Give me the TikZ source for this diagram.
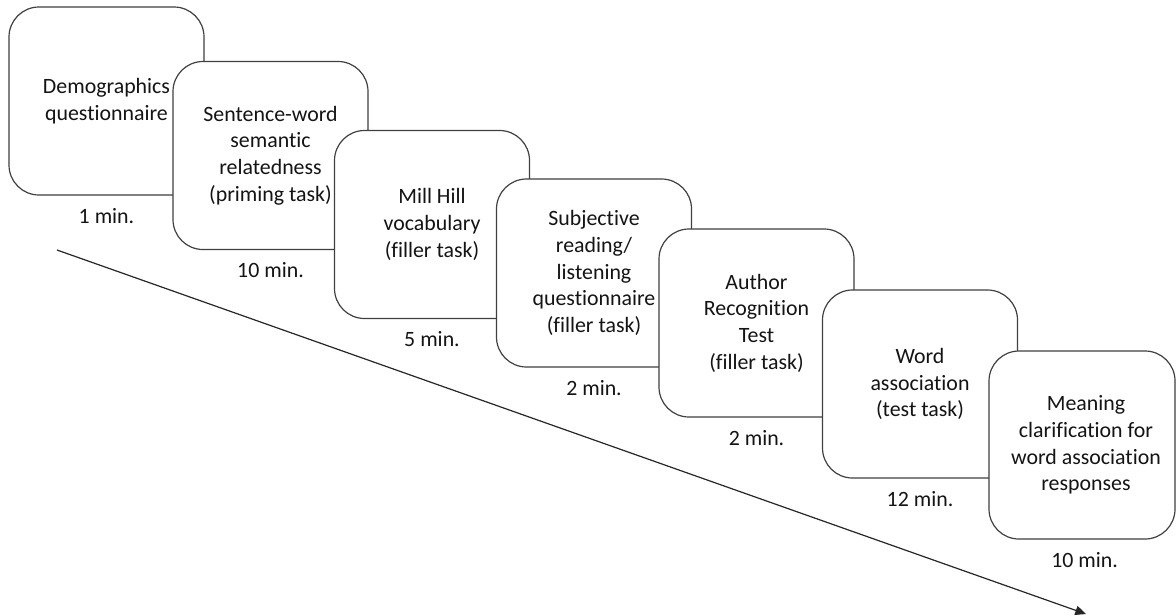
\documentclass[tikz,border=0pt]{standalone}
\usepackage{fontspec}
\setmainfont{Carlito}[Ligatures=NoCommon]
\usetikzlibrary{arrows.meta}
\begin{document}
\begin{tikzpicture}[x=0.75pt,y=-0.75pt,
  stepbox/.style={draw=black!75, line width=0.9pt, fill=white,
    rounded corners=22.5pt, minimum width=146.25pt, minimum height=141pt,
    inner sep=0pt, align=center, text=black!92,
    font=\fontsize{16.4}{20}\selectfont},
  duration/.style={text=black!92, inner sep=0pt,
    font=\fontsize{16.4}{20}\selectfont},
  timeline/.style={draw=black!85, line width=0.9pt,
    -{Triangle[length=8pt,width=7pt]}}]
\useasboundingbox (0,0) rectangle (1176,615);
\fill[white] (0,0) rectangle (1176,615);

\node[stepbox] (b1) at (106.5,101) {Demographics\\questionnaire};
\node[stepbox] (b2) at (270.5,155.5) {Sentence-word\\semantic\\relatedness\\(priming task)};
\node[stepbox] (b3) at (432,224.5) {Mill Hill\\vocabulary\\(filler task)};
\node[stepbox] (b4) at (594,273) {Subjective\\reading/\\listening\\questionnaire\\(filler task)};
\node[stepbox] (b5) at (756.5,323) {Author\\Recognition\\Test\\(filler task)};
\node[stepbox] (b6) at (920,384) {Word\\association\\(test task)};
\node[stepbox, minimum width=139.5pt] (b7) at (1082,445) {\hspace*{6pt}Meaning\\\hspace*{6pt}clarification for\\\hspace*{6pt}word association\\\hspace*{6pt}responses};

\node[duration] (t1) at ([yshift=-15pt]b1.south) {1 min.};
\node[duration] (t2) at ([yshift=-15pt]b2.south) {10 min.};
\node[duration] (t3) at ([yshift=-15pt]b3.south) {5 min.};
\node[duration] (t4) at ([yshift=-15pt]b4.south) {2 min.};
\node[duration] (t5) at ([yshift=-15pt]b5.south) {2 min.};
\node[duration] (t6) at ([yshift=-15pt]b6.south) {12 min.};
\node[duration] (t7) at ([xshift=2pt,yshift=-15pt]b7.south) {10 min.};

\coordinate (as) at (57,250);
\coordinate (ae) at (1086,614);
\draw[timeline] (as) -- (ae);
\end{tikzpicture}
\end{document}
